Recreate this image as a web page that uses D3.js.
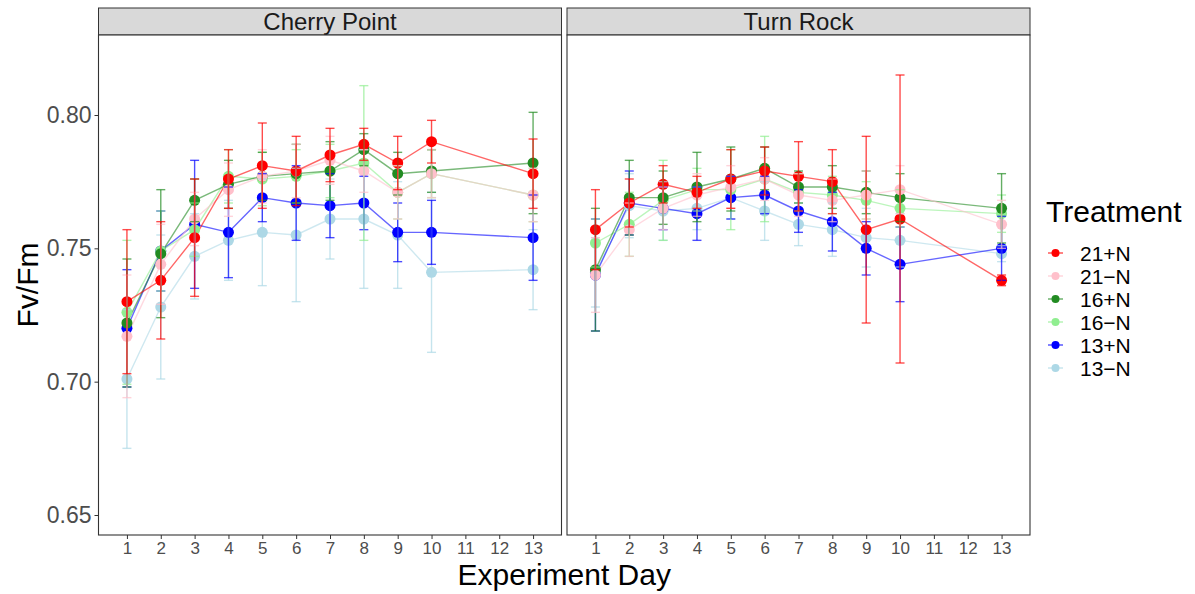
<!DOCTYPE html>
<html>
<head>
<meta charset="utf-8">
<script src="https://cdn.jsdelivr.net/npm/d3@7/dist/d3.min.js"></script>
<style>
  html, body { margin: 0; padding: 0; background: #fff; }
  svg text { font-family: "Liberation Sans", Arial, sans-serif; }
</style>
</head>
<body>
<svg id="chart" width="1195" height="594"></svg>
<script>
// Measurement days and experiment sites
const days = [1, 2, 3, 4, 5, 6, 7, 8, 9, 10, 13];
const dayTicks = [1, 2, 3, 4, 5, 6, 7, 8, 9, 10, 11, 12, 13];
const sites = ["Cherry Point", "Turn Rock"];
const treatments = ["21+N", "21\u2212N", "16+N", "16\u2212N", "13+N", "13\u2212N"];
const colors = ["#FF0000", "#FFC0CB", "#228B22", "#90EE90", "#0000FF", "#ADD8E6"];
const yTicks = [0.65, 0.70, 0.75, 0.80];

// Mean Fv/Fm per treatment (rows follow `treatments`), Cherry Point
const cherryMean = [
  [0.730, 0.738, 0.754, 0.776, 0.781, 0.779, 0.785, 0.789, 0.782, 0.790, 0.778],
  [0.717, 0.744, 0.761, 0.772, 0.777, 0.779, 0.783, 0.779, 0.771, 0.778, 0.770],
  [0.722, 0.748, 0.768, 0.774, 0.777, 0.778, 0.779, 0.787, 0.778, 0.779, 0.782],
  [0.726, 0.749, 0.757, 0.777, 0.776, 0.777, 0.779, 0.782, 0.771, 0.778, 0.770],
  [0.720, 0.749, 0.759, 0.756, 0.769, 0.767, 0.766, 0.767, 0.756, 0.756, 0.754],
  [0.701, 0.728, 0.747, 0.753, 0.756, 0.755, 0.761, 0.761, 0.755, 0.741, 0.742]
];
// Standard error per treatment, Cherry Point
const cherrySe = [
  [0.027, 0.022, 0.022, 0.011, 0.016, 0.013, 0.010, 0.006, 0.010, 0.008, 0.013],
  [0.023, 0.015, 0.010, 0.010, 0.010, 0.010, 0.009, 0.008, 0.010, 0.009, 0.010],
  [0.024, 0.024, 0.008, 0.009, 0.009, 0.011, 0.011, 0.006, 0.008, 0.008, 0.019],
  [0.027, 0.015, 0.010, 0.010, 0.010, 0.010, 0.010, 0.029, 0.010, 0.009, 0.010],
  [0.022, 0.015, 0.024, 0.017, 0.009, 0.014, 0.012, 0.010, 0.011, 0.012, 0.016],
  [0.026, 0.027, 0.016, 0.015, 0.020, 0.025, 0.015, 0.026, 0.020, 0.030, 0.015]
];
// Mean Fv/Fm per treatment, Turn Rock
const turnMean = [
  [0.757, 0.767, 0.774, 0.771, 0.776, 0.779, 0.777, 0.775, 0.757, 0.761, 0.738],
  [0.740, 0.757, 0.765, 0.770, 0.773, 0.776, 0.770, 0.768, 0.770, 0.772, 0.759],
  [0.742, 0.769, 0.769, 0.773, 0.776, 0.780, 0.773, 0.773, 0.771, 0.769, 0.765],
  [0.752, 0.759, 0.768, 0.772, 0.772, 0.776, 0.771, 0.770, 0.768, 0.765, 0.763],
  [0.740, 0.767, 0.765, 0.763, 0.769, 0.770, 0.764, 0.760, 0.750, 0.744, 0.750],
  [0.741, 0.766, 0.764, 0.765, 0.769, 0.764, 0.759, 0.757, 0.754, 0.753, 0.748]
];
// Standard error per treatment, Turn Rock
const turnSe = [
  [0.015, 0.009, 0.007, 0.006, 0.011, 0.009, 0.013, 0.012, 0.035, 0.054, 0.002],
  [0.014, 0.010, 0.008, 0.008, 0.008, 0.008, 0.008, 0.008, 0.009, 0.009, 0.009],
  [0.023, 0.014, 0.010, 0.013, 0.012, 0.008, 0.006, 0.008, 0.008, 0.009, 0.013],
  [0.009, 0.012, 0.015, 0.008, 0.015, 0.016, 0.007, 0.007, 0.007, 0.007, 0.007],
  [0.021, 0.012, 0.008, 0.010, 0.008, 0.007, 0.008, 0.011, 0.010, 0.014, 0.012],
  [0.013, 0.012, 0.011, 0.008, 0.008, 0.011, 0.008, 0.010, 0.011, 0.010, 0.003]
];

const siteData = [
  { mean: cherryMean, se: cherrySe },
  { mean: turnMean, se: turnSe }
];

const svg = d3.select("#chart");

// Facet panel geometry
const panelTop = 35, panelBottom = 535, stripTop = 8;
const panels = [
  { x0: 98.5, x1: 561.5 },
  { x0: 567, x1: 1030 }
];

const y = d3.scaleLinear().domain([0.6425, 0.830]).range([panelBottom, panelTop]);

// Draw series back to front so that 21+N sits on top
const drawOrder = d3.range(treatments.length).reverse();

panels.forEach((p, pi) => {
  const x = d3.scaleLinear().domain([0.16, 13.84]).range([p.x0, p.x1]);
  const g = svg.append("g");
  const data = siteData[pi];

  // strip
  g.append("rect")
    .attr("x", p.x0).attr("y", stripTop)
    .attr("width", p.x1 - p.x0).attr("height", panelTop - stripTop)
    .attr("fill", "#D9D9D9").attr("stroke", "#333333").attr("stroke-width", 1);
  g.append("text")
    .attr("x", (p.x0 + p.x1) / 2).attr("y", (stripTop + panelTop) / 2)
    .attr("dy", "0.36em").attr("text-anchor", "middle")
    .attr("font-size", 24).attr("fill", "#1A1A1A")
    .text(sites[pi]);

  // panel background
  g.append("rect")
    .attr("x", p.x0).attr("y", panelTop)
    .attr("width", p.x1 - p.x0).attr("height", panelBottom - panelTop)
    .attr("fill", "#FFFFFF");

  const line = d3.line().x((d, i) => x(days[i])).y(d => y(d));

  // connecting lines
  drawOrder.forEach(ti => {
    g.append("path")
      .datum(data.mean[ti])
      .attr("d", line)
      .attr("fill", "none")
      .attr("stroke", colors[ti])
      .attr("stroke-opacity", 0.6)
      .attr("stroke-width", 1.4);
  });

  // points
  drawOrder.forEach(ti => {
    g.append("g").selectAll("circle")
      .data(data.mean[ti])
      .join("circle")
      .attr("cx", (d, i) => x(days[i]))
      .attr("cy", d => y(d))
      .attr("r", 5.5)
      .attr("fill", colors[ti]);
  });

  // error bars (mean ± se)
  const capHalf = 4.5;
  drawOrder.forEach(ti => {
    const eg = g.append("g")
      .attr("stroke", colors[ti])
      .attr("stroke-opacity", 0.7)
      .attr("stroke-width", 1.4);
    data.mean[ti].forEach((m, i) => {
      const s = data.se[ti][i];
      const cx = x(days[i]);
      const yt = y(m + s), yb = y(m - s);
      eg.append("line").attr("x1", cx).attr("x2", cx).attr("y1", yt).attr("y2", yb);
      eg.append("line").attr("x1", cx - capHalf).attr("x2", cx + capHalf).attr("y1", yt).attr("y2", yt);
      eg.append("line").attr("x1", cx - capHalf).attr("x2", cx + capHalf).attr("y1", yb).attr("y2", yb);
    });
  });

  // panel border
  g.append("rect")
    .attr("x", p.x0).attr("y", panelTop)
    .attr("width", p.x1 - p.x0).attr("height", panelBottom - panelTop)
    .attr("fill", "none").attr("stroke", "#333333").attr("stroke-width", 1.1);

  // x axis
  const xAxis = d3.axisBottom(x).tickValues(dayTicks).tickSize(4).tickPadding(3).tickFormat(d3.format("d"));
  const xa = g.append("g").attr("transform", `translate(0,${panelBottom})`).call(xAxis);
  xa.select(".domain").remove();
  xa.selectAll(".tick line").attr("stroke", "#333333");
  xa.selectAll(".tick text").attr("font-size", 17).attr("fill", "#4D4D4D")
    .attr("font-family", "Liberation Sans, Arial, sans-serif");

  if (pi === 0) {
    const yAxis = d3.axisLeft(y).tickValues(yTicks).tickSize(4).tickPadding(3).tickFormat(d3.format(".2f"));
    const ya = g.append("g").attr("transform", `translate(${p.x0},0)`).call(yAxis);
    ya.select(".domain").remove();
    ya.selectAll(".tick line").attr("stroke", "#333333");
    ya.selectAll(".tick text").attr("font-size", 23).attr("fill", "#4D4D4D")
      .attr("font-family", "Liberation Sans, Arial, sans-serif");
  }
});

// axis titles
svg.append("text")
  .attr("x", (panels[0].x0 + panels[1].x1) / 2).attr("y", 585)
  .attr("text-anchor", "middle").attr("font-size", 30).attr("fill", "#000")
  .text("Experiment Day");
svg.append("text")
  .attr("transform", `translate(38,${(panelTop + panelBottom) / 2}) rotate(-90)`)
  .attr("text-anchor", "middle").attr("font-size", 30).attr("fill", "#000")
  .text("Fv/Fm");

// legend
const legend = svg.append("g");
legend.append("text")
  .attr("x", 1046).attr("y", 222)
  .attr("font-size", 30).attr("fill", "#000")
  .text("Treatment");
treatments.forEach((t, i) => {
  const cy = 253 + i * 23;
  legend.append("line")
    .attr("x1", 1048).attr("x2", 1063).attr("y1", cy).attr("y2", cy)
    .attr("stroke", colors[i]).attr("stroke-width", 1.4).attr("stroke-opacity", 0.7);
  legend.append("circle")
    .attr("cx", 1055.5).attr("cy", cy).attr("r", 4)
    .attr("fill", colors[i]);
  legend.append("text")
    .attr("x", 1080).attr("y", cy).attr("dy", "0.36em")
    .attr("font-size", 21).attr("fill", "#000")
    .text(t);
});
</script>
</body>
</html>
